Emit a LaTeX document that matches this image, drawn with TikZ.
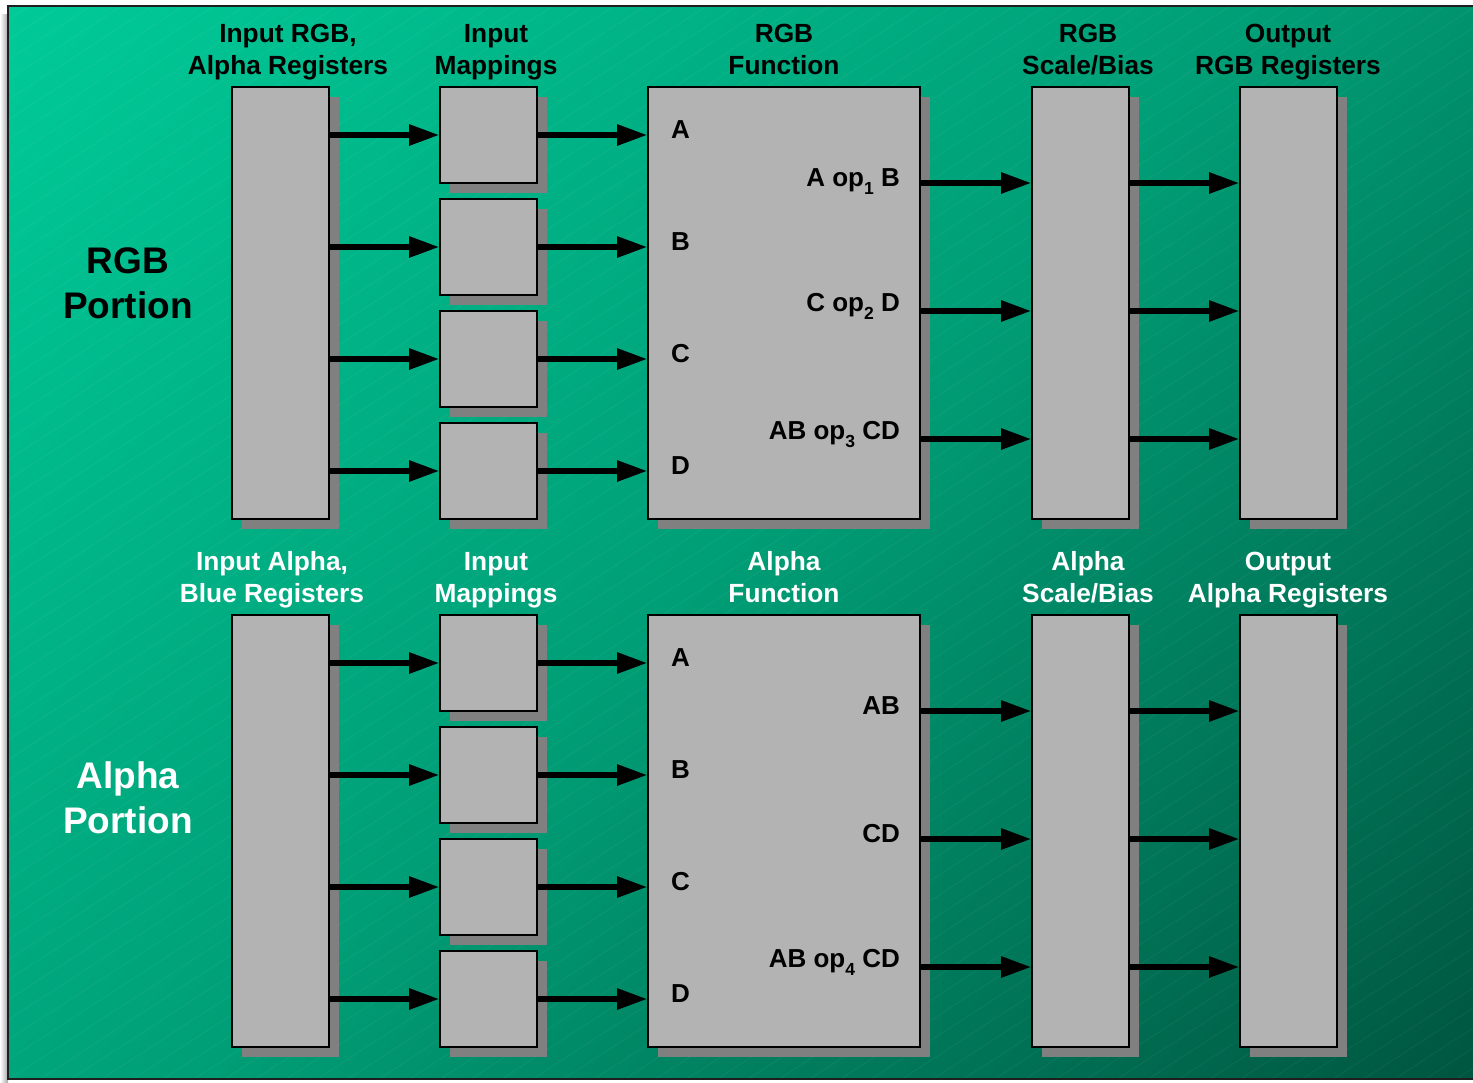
\documentclass[tikz,border=0pt]{standalone}
\usepackage{fontspec}
\setmainfont{Liberation Sans}
\usetikzlibrary{arrows.meta,shadows}

\definecolor{bglight}{RGB}{0,202,152}
\definecolor{bgmid}{RGB}{0,158,118}
\definecolor{bgdark}{RGB}{0,86,64}
\definecolor{boxgray}{RGB}{179,179,179}
\definecolor{shadowgray}{RGB}{128,128,128}
\definecolor{frameline}{RGB}{30,30,30}

% diagonal panel gradient: light upper left, dark lower right
\pgfdeclareverticalshading{panelshade}{100bp}{color(0bp)=(bgdark); color(14.6bp)=(bgdark); color(50bp)=(bgmid); color(85.4bp)=(bglight); color(100bp)=(bglight)}

% lowered small index, as in "op_1"
\newcommand\opidx[1]{\raisebox{-8pt}{\fontsize{17.5}{17.5}\selectfont #1}}
% two-line heading with fixed line heights, so all headings share baselines
\newcommand\twolines[2]{\rule{0pt}{20pt}#1\\#2\rule[-6pt]{0pt}{6pt}}

\tikzset{
  unit/.style={draw=black, line width=1.6pt, fill=boxgray, inner sep=0pt,
    drop shadow={shadow xshift=10pt, shadow yshift=-10pt, fill=shadowgray, opacity=1, draw=none}},
  regbox/.style={unit, minimum width=97pt, minimum height=432pt},
  mapbox/.style={unit, minimum width=97pt, minimum height=96pt},
  funcbox/.style={unit, minimum width=272pt, minimum height=432pt},
  arr/.style={line width=5.5pt, -{Triangle[length=30pt,width=20pt]}},
  hdr/.style={font=\fontsize{26.3}{32}\selectfont\bfseries, align=center, inner sep=0pt},
  portion/.style={font=\fontsize{37}{45}\selectfont\bfseries, align=center, inner sep=0pt},
  port/.style={font=\fontsize{26}{30}\selectfont\bfseries, anchor=base west, inner sep=0pt},
  res/.style={font=\fontsize{26}{30}\selectfont\bfseries, anchor=base east, inner sep=0pt},
}

\begin{document}
\begin{tikzpicture}[x=1pt,y=-1pt]
\useasboundingbox (0,0) rectangle (1473,1082);
\fill[white] (0,0) rectangle (1473,1082);
% soft shadow left of the panel
\shade[left color=white, right color=black!35] (0,14) rectangle (8,1082);

% panel
\shade[shading=panelshade, shading angle=45] (8,6) rectangle (1473,1079);
\begin{scope}
  \clip (8,6) rectangle (1473,1079);
  \foreach \c in {0,20,...,2060}
    \draw[white, opacity=0.05, line width=0.8pt] (8,\c) -- (1473,\c-952);
\end{scope}
\draw[frameline, line width=2pt] (1473,6) -- (8,6) -- (8,1079) -- (1473,1079);

% both halves share the same block layout
\foreach \s/\o in {t/0,b/528}{
  \node[regbox] (in\s) at (280.5,303+\o) {};
  \foreach \i in {0,...,3}
    \node[mapbox] (m\s\i) at (488.5,135+112*\i+\o) {};
  \node[funcbox] (fn\s) at (784,303+\o) {};
  \node[regbox] (sc\s) at (1080.5,303+\o) {};
  \node[regbox] (out\s) at (1288.5,303+\o) {};

  \foreach \i in {0,...,3}{
    \draw[arr] (in\s.east |- m\s\i) -- (m\s\i.west);
    \draw[arr] (m\s\i.east) -- (m\s\i -| fn\s.west);
  }
  \foreach \j/\y in {1/183,2/311,3/439}{
    \coordinate (r\s\j) at (920,\y+\o);
    \draw[arr] (r\s\j) -- (r\s\j -| sc\s.west);
    \draw[arr] (r\s\j -| sc\s.east) -- (r\s\j -| out\s.west);
  }

  \node[port] (pa\s) at (671,138.5+\o) {A};
  \node[port] (pb\s) at (671,250.5+\o) {B};
  \node[port] (pc\s) at (671,362.5+\o) {C};
  \node[port] (pd\s) at (671,474.5+\o) {D};
}

% result labels
\node[res] (rt1) at (900,186.5) {A op\opidx{1} B};
\node[res] (rt2) at (900,311.5) {C op\opidx{2} D};
\node[res] (rt3) at (900,439.5) {AB op\opidx{3} CD};
\node[res] (rb1) at (900,714.5) {AB};
\node[res] (rb2) at (900,842.5) {CD};
\node[res] (rb3) at (900,967.5) {AB op\opidx{4} CD};

% column headings
\node[hdr] (h1) at (288,51.4) {\twolines{Input RGB,}{Alpha Registers}};
\node[hdr] (h2) at (496,51.4) {\twolines{Input}{Mappings}};
\node[hdr] (h3) at (784,51.4) {\twolines{RGB}{Function}};
\node[hdr] (h4) at (1088,51.4) {\twolines{RGB}{Scale/Bias}};
\node[hdr] (h5) at (1288,51.4) {\twolines{Output}{RGB Registers}};

\node[hdr, text=white] (g1) at (272,579.4) {\twolines{Input Alpha,}{Blue Registers}};
\node[hdr, text=white] (g2) at (496,579.4) {\twolines{Input}{Mappings}};
\node[hdr, text=white] (g3) at (784,579.4) {\twolines{Alpha}{Function}};
\node[hdr, text=white] (g4) at (1088,579.4) {\twolines{Alpha}{Scale/Bias}};
\node[hdr, text=white] (g5) at (1288,579.4) {\twolines{Output}{Alpha Registers}};

% section titles
\node[portion] (rgbpart) at (128,283) {RGB\\Portion};
\node[portion, text=white] (alphapart) at (128,798) {Alpha\\Portion};
\end{tikzpicture}
\end{document}
